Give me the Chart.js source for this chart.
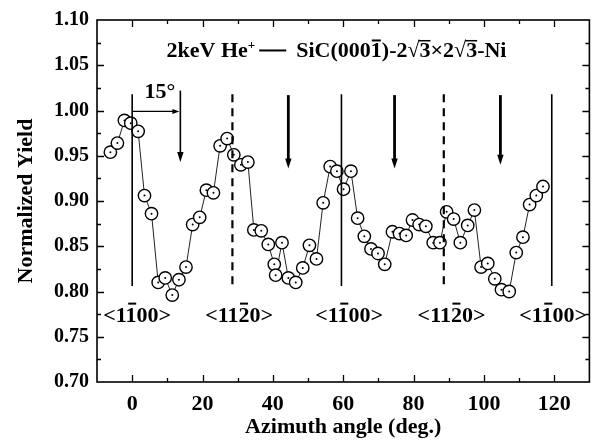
<!DOCTYPE html>
<html><head><meta charset="utf-8">
<script src="https://cdn.jsdelivr.net/npm/chart.js@4/dist/chart.umd.min.js"></script>
<style>html,body{margin:0;padding:0;background:#fff}#wrap{width:597px;height:443px;position:relative}</style>
</head><body><div id="wrap"><canvas id="c" width="597" height="443"></canvas></div>
<script>
// ---- data ----
const angles = [-6.2,-4.2,-2.2,-0.4,1.7,3.5,5.5,7.4,9.4,11.4,13.3,15.3,17.2,19.2,21.1,23.1,25.0,27.0,28.9,30.9,
  32.9,34.6,36.7,38.7,40.4,40.8,42.6,44.4,46.5,48.5,50.4,52.4,54.3,56.3,58.2,60.1,62.2,64.1,66.0,67.9,69.9,71.8,
  74.0,76.0,77.9,79.7,81.6,83.5,85.6,87.5,89.4,91.4,93.3,95.4,97.3,99.2,101.1,103.1,105.0,107.2,109.2,111.1,113.0,114.9,116.8];
const yields = [0.954,0.964,0.989,0.986,0.977,0.906,0.886,0.810,0.815,0.796,0.813,0.827,0.874,0.882,0.912,0.909,0.961,0.969,0.951,0.940,
  0.943,0.868,0.867,0.852,0.830,0.818,0.854,0.815,0.810,0.826,0.851,0.836,0.898,0.938,0.933,0.913,0.933,0.881,0.861,0.847,0.842,0.830,
  0.866,0.864,0.862,0.879,0.874,0.872,0.854,0.854,0.888,0.880,0.854,0.873,0.890,0.827,0.831,0.814,0.802,0.800,0.843,0.860,0.896,0.906,0.916];
const xTickValues = [0,20,40,60,80,100,120];
const yTickValues = [0.70,0.75,0.80,0.85,0.90,0.95,1.00,1.05,1.10];
const solidLineAngles = [0,59.5,119.3];
const dashedLineAngles = [28.5,88.6];
const arrowAngles = [13.7,44.4,74.6,104.7];
const arrowTops = [1.022,1.017,1.017,1.017];
const arrowTips = [0.943,0.936,0.936,0.940];
const refLineTop = 1.018, refLineBottom = 0.806;
const directionLabelAngles = [1.4,30.4,61.7,90.8,119.7];
const directionLabelTexts = ['<1100>','<1120>','<1100>','<1120>','<1100>'];
const directionBarIndex = [2,3,2,3,2];
const directionLabelY = 0.775;
const bracketY = 0.999, bracketText = '15\u00B0', bracketTextAngle = 7.9, bracketTextY = 1.014;
const titleAngle = 58.1, titleY = 1.0586;

const SERIF = '"Liberation Serif","Times New Roman",serif';

function drawArrowHead(ctx, x, y, dir, len, half){
  ctx.beginPath();
  if(dir==='down'){ctx.moveTo(x,y);ctx.lineTo(x-half,y-len);ctx.lineTo(x+half,y-len);}
  else {ctx.moveTo(x,y);ctx.lineTo(x-len,y-half);ctx.lineTo(x-len,y+half);}
  ctx.closePath();ctx.fill();
}

const annot = {
  id:'annot',
  afterDraw(chart){
    const {ctx, chartArea:a, scales:{x,y}} = chart;
    ctx.save();
    ctx.strokeStyle='#000'; ctx.fillStyle='#000';
    // frame
    ctx.lineWidth=1.6;
    ctx.strokeRect(a.left, a.top, a.right-a.left, a.bottom-a.top);
    // inward ticks on all sides
    ctx.lineWidth=1.3;
    ctx.beginPath();
    for(let v=-10; v<=130; v+=10){
      if(v<=x.min||v>=x.max) continue;
      const px=Math.round(x.getPixelForValue(v))+0.5; const L=(v%20===0)?7:4;
      ctx.moveTo(px,a.bottom);ctx.lineTo(px,a.bottom-L);
      ctx.moveTo(px,a.top);ctx.lineTo(px,a.top+L);
    }
    for(let i=1;i<16;i++){
      const py=Math.round(y.getPixelForValue(0.70+i*0.025))+0.5; const L=(i%2===0)?7:4;
      ctx.moveTo(a.left,py);ctx.lineTo(a.left+L,py);
      ctx.moveTo(a.right,py);ctx.lineTo(a.right-L,py);
    }
    ctx.stroke();
    // solid reference lines
    ctx.lineWidth=1.6;
    ctx.beginPath();
    solidLineAngles.forEach(v=>{const px=x.getPixelForValue(v);ctx.moveTo(px,y.getPixelForValue(refLineTop));ctx.lineTo(px,y.getPixelForValue(refLineBottom));});
    ctx.stroke();
    // dashed reference lines
    ctx.lineWidth=2.2; ctx.setLineDash([8,6]);
    ctx.beginPath();
    dashedLineAngles.forEach(v=>{const px=x.getPixelForValue(v);ctx.moveTo(px,y.getPixelForValue(refLineTop));ctx.lineTo(px,y.getPixelForValue(refLineBottom));});
    ctx.stroke(); ctx.setLineDash([]);
    // arrows
    arrowAngles.forEach((v,i)=>{
      const px=x.getPixelForValue(v), top=y.getPixelForValue(arrowTops[i]), tip=y.getPixelForValue(arrowTips[i]);
      ctx.lineWidth = i===0?1.6:2.8;
      ctx.beginPath();ctx.moveTo(px,top);ctx.lineTo(px,tip-8);ctx.stroke();
      drawArrowHead(ctx,px,tip,'down',10,3.2);
    });
    // 15 degree bracket
    const by=y.getPixelForValue(bracketY), bx0=x.getPixelForValue(solidLineAngles[0]), bx1=x.getPixelForValue(arrowAngles[0]);
    ctx.lineWidth=1.3;
    ctx.beginPath();ctx.moveTo(bx0,by);ctx.lineTo(bx1-6,by);ctx.stroke();
    drawArrowHead(ctx,bx1-1,by,'right',7,2.5);
    ctx.font='bold 22px '+SERIF; ctx.textAlign='center'; ctx.textBaseline='alphabetic';
    ctx.fillText(bracketText, x.getPixelForValue(bracketTextAngle), y.getPixelForValue(bracketTextY));
    // direction labels
    ctx.font='bold 22px '+SERIF; ctx.textAlign='left';
    directionLabelTexts.forEach((t,i)=>{
      const w=ctx.measureText(t).width;
      const cx=x.getPixelForValue(directionLabelAngles[i]);
      const base=y.getPixelForValue(directionLabelY)+7.5;
      const x0=cx-w/2;
      ctx.fillText(t,x0,base);
      const pre=ctx.measureText(t.slice(0,directionBarIndex[i])).width;
      const cw=ctx.measureText(t[directionBarIndex[i]]).width;
      ctx.fillRect(x0+pre+1.5, base-19, cw-3, 2);
    });
    // title
    drawTitle(ctx, x.getPixelForValue(titleAngle), y.getPixelForValue(titleY));
    ctx.restore();
  }
};

function drawTitle(ctx, cx, base){
  const big='bold 22px '+SERIF, small='bold 13px '+SERIF;
  const parts=[
    {t:'2keV He',f:big},
    {t:'+',f:small,sup:true},
    {gap:4},{dash:27},{gap:10},
    {t:'SiC(000',f:big},
    {t:'1',f:big,bar:true},
    {t:')-2',f:big},
    {t:'\u221A',f:big,rad:true},
    {t:'3',f:big,vinc:true},
    {t:'\u00D72',f:big},
    {t:'\u221A',f:big,rad:true},
    {t:'3',f:big,vinc:true},
    {t:'-Ni',f:big}
  ];
  let total=0;
  parts.forEach(p=>{ if(p.t){ctx.font=p.f;p.w=ctx.measureText(p.t).width;} else p.w=(p.gap||p.dash); total+=p.w; });
  let xx=cx-total/2;
  ctx.textAlign='left'; ctx.textBaseline='alphabetic';
  parts.forEach(p=>{
    if(p.t){
      ctx.font=p.f;
      ctx.fillText(p.t,xx,p.sup?base-8:base);
      if(p.bar) ctx.fillRect(xx+1,base-18,p.w-2,2);
      if(p.vinc) ctx.fillRect(xx-1,base-17.5,p.w+1,1.5);
    } else if(p.dash){
      ctx.fillRect(xx,base-8,p.w,2);
    }
    xx+=p.w;
  });
}

const points = angles.map((a,i)=>({x:a,y:yields[i]}));

new Chart(document.getElementById('c'), {
  type:'scatter',
  data:{datasets:[
    {data:points, showLine:true, borderColor:'#222', borderWidth:1, pointRadius:6.2, pointBorderWidth:1.4,
     pointBackgroundColor:'#fff', pointBorderColor:'#000', order:2},
    {data:points, showLine:false, pointRadius:1, pointBorderWidth:0, pointBackgroundColor:'#000', order:1}
  ]},
  options:{
    responsive:false, animation:false, devicePixelRatio:1,
    layout:{padding:{top:17,right:3,left:0,bottom:0}},
    plugins:{legend:{display:false},tooltip:{enabled:false},title:{display:false}},
    scales:{
      x:{type:'linear',min:-10,max:130,
        grid:{display:false,drawTicks:false}, border:{display:false},
        afterBuildTicks(s){s.ticks=xTickValues.map(v=>({value:v}));},
        afterFit(s){s.height=61;},
        ticks:{padding:9,color:'#000',font:{family:SERIF,weight:'bold',size:22},callback:v=>String(v),maxRotation:0},
        title:{display:true,text:'Azimuth angle (deg.)',color:'#000',font:{family:SERIF,weight:'bold',size:22},padding:{top:0,bottom:2}}
      },
      y:{type:'linear',min:0.70,max:1.10,
        grid:{display:false,drawTicks:false}, border:{display:false},
        afterBuildTicks(s){s.ticks=yTickValues.map(v=>({value:v}));},
        afterFit(s){s.width=97;},
        ticks:{padding:8,color:'#000',font:{family:SERIF,weight:'bold',size:20},callback:v=>v.toFixed(2)},
        title:{display:true,text:'Normalized Yield',color:'#000',font:{family:SERIF,weight:'bold',size:22},padding:{top:13,bottom:0}}
      }
    }
  },
  plugins:[annot]
});
</script></body></html>
